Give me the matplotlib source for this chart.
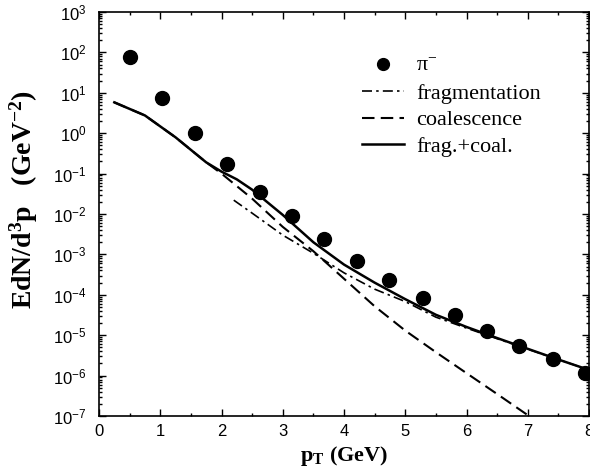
import matplotlib
matplotlib.use('Agg')
import matplotlib.pyplot as plt
from matplotlib.legend_handler import HandlerLine2D
import numpy as np

# ── data (pT in GeV, yield in GeV^-2) ────────────────────────────────────────
pt_data   = [0.51, 1.03, 1.57, 2.09, 2.63, 3.15, 3.67, 4.21, 4.73, 5.29, 5.81, 6.33, 6.86, 7.41, 7.93]
pim_data  = [77, 7.4, 1.0, 0.17, 0.035, 8.9e-3, 2.4e-3, 6.9e-4, 2.3e-4, 8.3e-5,
             3.2e-5, 1.27e-5, 5.4e-6, 2.6e-6, 1.16e-6]

pt_tot    = [0.25, 0.75, 1.25, 1.75, 2.0, 2.25, 2.5, 3.0, 3.5, 4.0, 4.5, 5.0, 5.5, 6.0, 6.5, 7.0, 7.5, 8.0]
total     = [5.8, 2.75, 0.79, 0.19, 0.112, 0.072, 0.040, 9.5e-3, 2.0e-3, 5.6e-4, 2.0e-4,
             7.8e-5, 3.2e-5, 1.6e-5, 8.5e-6, 4.6e-6, 2.5e-6, 1.38e-6]

pt_coal   = [0.25, 0.75, 1.25, 1.75, 2.0, 2.25, 2.5, 3.0, 3.5, 4.0, 4.5, 5.0, 5.5, 6.0, 6.5, 7.0]
coal      = [5.8, 2.75, 0.79, 0.19, 0.10, 0.049, 0.024, 4.8e-3, 1.2e-3, 2.5e-4, 5.2e-5,
             1.3e-5, 3.8e-6, 1.15e-6, 3.5e-7, 1.05e-7]

pt_frag   = [2.2, 2.5, 3.0, 3.5, 4.0, 4.5, 5.0, 5.5, 6.0, 6.5, 7.0, 7.5, 8.0]
frag      = [0.022, 0.0105, 3.0e-3, 1.07e-3, 3.5e-4, 1.38e-4, 6.8e-5, 2.8e-5, 1.5e-5,
             8.2e-6, 4.5e-6, 2.5e-6, 1.38e-6]

plt.rcParams['font.family'] = ['Liberation Sans', 'DejaVu Sans']
plt.rcParams['mathtext.fontset'] = 'custom'
plt.rcParams['mathtext.rm'] = 'Liberation Serif'
plt.rcParams['mathtext.it'] = 'Liberation Serif'
plt.rcParams['mathtext.bf'] = 'Liberation Serif:bold'


class RightMarker(HandlerLine2D):
    # legend marker sits at the right end of the handle box, as in the original
    def get_xdata(self, legend, xdescent, ydescent, width, height, fontsize):
        xdata, _ = super().get_xdata(legend, xdescent, ydescent, width, height, fontsize)
        return xdata, [-xdescent + width - 0.15 * fontsize]


fig = plt.figure(figsize=(5.9, 4.7), dpi=100)
ax = fig.add_axes([99 / 590, 54 / 470, 490 / 590, 404 / 470])

pts, = ax.plot(pt_data, pim_data, 'o', color='black', markersize=10, label=r'$\mathrm{\pi}^{-}$')
ax.plot(pt_frag, frag, color='black', lw=1.2, dashes=[6, 2.5, 1.5, 2.5], label='fragmentation')
ax.plot(pt_coal, coal, color='black', lw=1.5, dashes=[6, 3], label='coalescence')
ax.plot(pt_tot, total, color='black', lw=1.8, label='frag.+coal.')

ax.set_yscale('log')
ax.set_xlim(0, 8)
ax.set_ylim(1e-7, 1e3)
ax.set_xticks(np.arange(0, 9, 1))
ax.set_xticks(np.arange(0, 8.01, 0.5), minor=True)
ax.set_yticks([10.0 ** k for k in range(-7, 4)])
ax.yaxis.set_minor_locator(matplotlib.ticker.LogLocator(base=10, subs=np.arange(2, 10), numticks=20))
ax.yaxis.set_minor_formatter(matplotlib.ticker.NullFormatter())
ax.tick_params(which='both', direction='in', top=True, right=True, labelsize=12, width=1)
ax.tick_params(which='major', length=5)
ax.tick_params(which='minor', length=2.5)
ax.tick_params(axis='x', pad=6)
ax.tick_params(axis='y', pad=9)
for s in ax.spines.values():
    s.set_linewidth(1.2)

ax.set_xlabel(r'p$_\mathbf{T}$ (GeV)', family='Liberation Serif', fontweight='bold', fontsize=16, labelpad=3)
ax.set_ylabel(r'EdN/d$\mathbf{^3}$p   (GeV$\mathbf{^{-2}}$)', family='Liberation Serif',
              fontweight='bold', fontsize=20)
ax.yaxis.set_label_coords(-0.12, 0.535)

leg = ax.legend(loc='upper left', bbox_to_anchor=(0.496, 0.94), frameon=False,
                prop={'family': 'Liberation Serif', 'size': 16}, labelspacing=0.28,
                handlelength=1.9, handletextpad=0.55, markerscale=0.85,
                handler_map={pts: RightMarker(numpoints=1)})

fig.savefig('out.png', dpi=100)
